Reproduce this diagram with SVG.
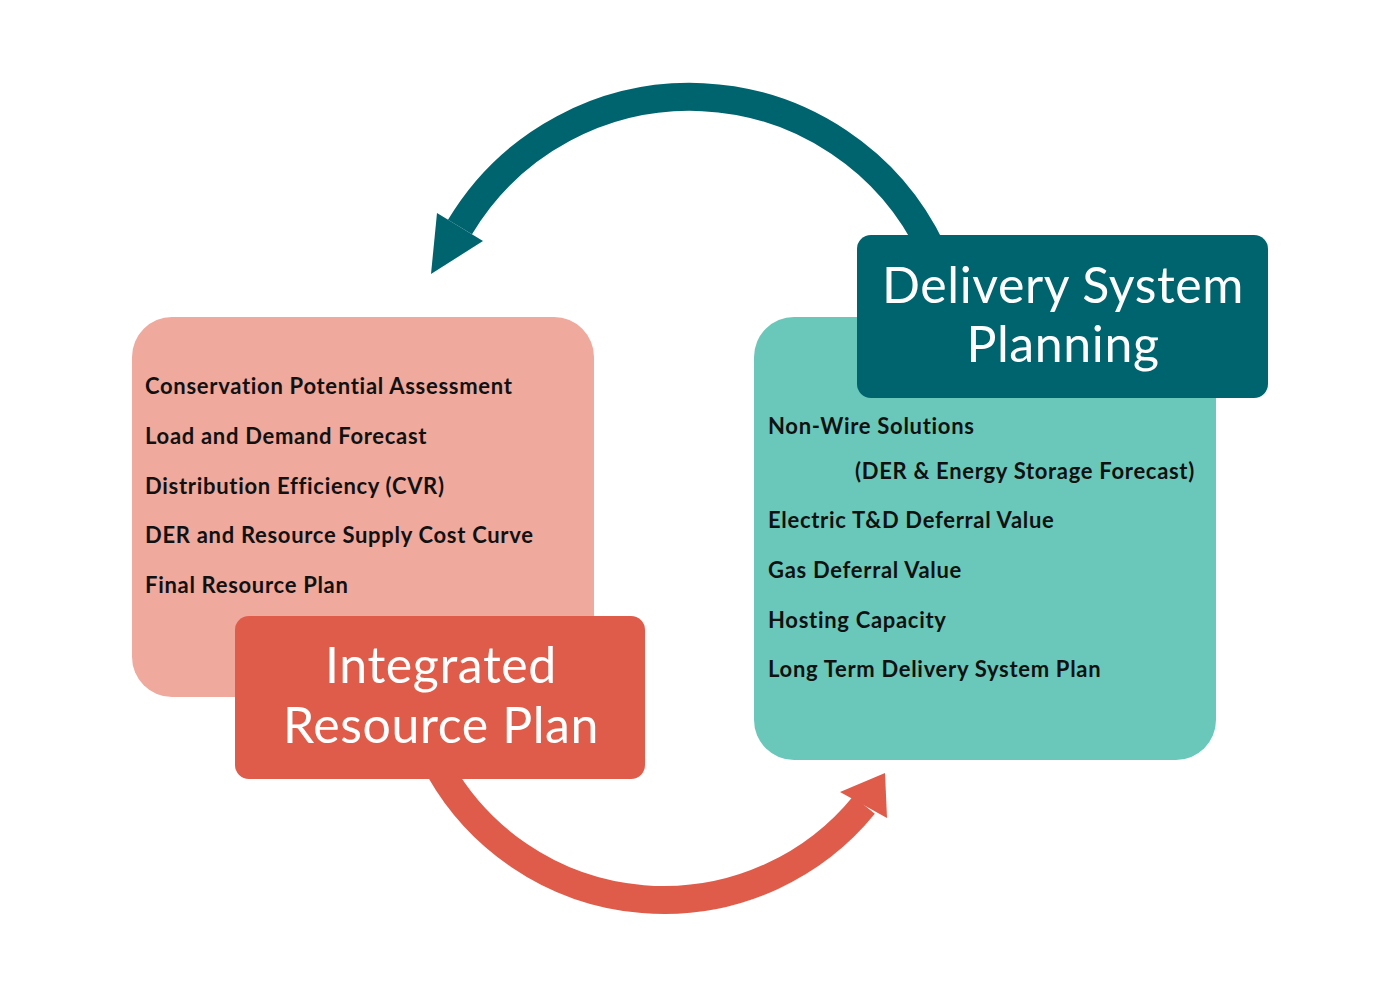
<svg xmlns="http://www.w3.org/2000/svg" width="1400" height="1000" viewBox="0 0 1400 1000">
<style>
.item{font-family:Lato,"Liberation Sans",sans-serif;font-weight:bold;font-size:22px;letter-spacing:0.7px;fill:#111}
.title{font-family:Lato,"Liberation Sans",sans-serif;font-size:50px;letter-spacing:0.6px;fill:#fff;text-anchor:middle}
</style>
<rect width="1400" height="1000" fill="#fff"/>
<g id="connectors">
<path d="M 932 250 A 268 268 0 0 0 460 227" fill="none" stroke="#00646E" stroke-width="28"/>
<polygon points="437,213 483,241 431,274" fill="#00646E"/>
<path d="M 440 770 A 258 258 0 0 0 864 805" fill="none" stroke="#E05C4A" stroke-width="28"/>
<polygon points="840,792 887,818 885,773" fill="#E05C4A"/>
</g>
<g id="irp-details">
<rect x="132" y="317" width="462" height="380" rx="40" fill="#EFA99D"/>
<text class="item" x="145" y="394">Conservation Potential Assessment</text>
<text class="item" x="145" y="444">Load and Demand Forecast</text>
<text class="item" x="145" y="494">Distribution Efficiency (CVR)</text>
<text class="item" x="145" y="543">DER and Resource Supply Cost Curve</text>
<text class="item" x="145" y="593">Final Resource Plan</text>
</g>
<g id="irp">
<rect x="235" y="616" width="410" height="163" rx="14" fill="#E05C4A"/>
<text class="title" x="441" y="683">Integrated</text>
<text class="title" x="441" y="743">Resource Plan</text>
</g>
<g id="dsp-details">
<rect x="754" y="317" width="462" height="443" rx="40" fill="#6AC8BA"/>
<text class="item" x="768" y="434">Non-Wire Solutions</text>
<text class="item" x="855" y="479">(DER &amp; Energy Storage Forecast)</text>
<text class="item" x="768" y="528">Electric T&amp;D Deferral Value</text>
<text class="item" x="768" y="578">Gas Deferral Value</text>
<text class="item" x="768" y="628">Hosting Capacity</text>
<text class="item" x="768" y="677">Long Term Delivery System Plan</text>
</g>
<g id="dsp">
<rect x="857" y="235" width="411" height="163" rx="14" fill="#00646E"/>
<text class="title" x="1063" y="303">Delivery System</text>
<text class="title" x="1063" y="362">Planning</text>
</g>
</svg>
